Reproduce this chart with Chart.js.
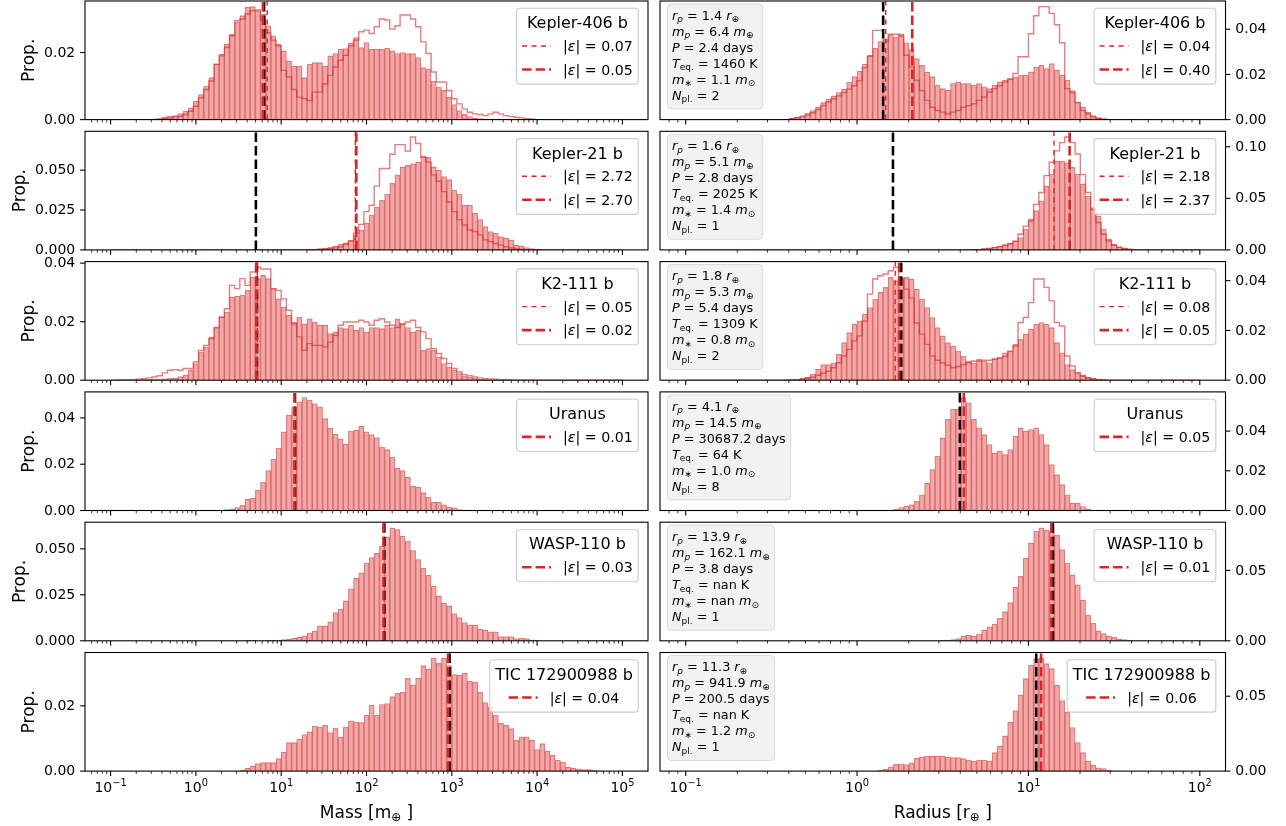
<!DOCTYPE html>
<html>
<head>
<meta charset="utf-8">
<script src="https://cdn.jsdelivr.net/npm/chart.js@4.4.1/dist/chart.umd.min.js"></script>
<style>
html, body { margin: 0; padding: 0; background: #fff; }
#fig { position: relative; width: 1286px; height: 826px; overflow: hidden; background: #fff; }
#fig canvas { position: absolute; }
</style>
</head>
<body>
<div id="fig"></div>
<script>
// log-spaced histogram bins (exponents of first and last edge), 99 bins each
const massBins = [-1, 5];
const radiusBins = [-1, 2];
const binCount = 99;

const planetNames = ['Kepler-406 b', 'Kepler-21 b', 'K2-111 b', 'Uranus', 'WASP-110 b', 'TIC 172900988 b'];

// text box of the radius panels
const infoRp = ['1.4', '1.6', '1.8', '4.1', '13.9', '11.3'];
const infoMp = ['6.4', '5.1', '5.3', '14.5', '162.1', '941.9'];
const infoPeriod = ['2.4', '2.8', '5.4', '30687.2', '3.8', '200.5'];
const infoTeq = ['1460', '2025', '1309', '64', 'nan', 'nan'];
const infoMstar = ['1.1', '1.4', '0.8', '1.0', 'nan', '1.2'];
const infoNpl = ['2', '1', '2', '8', '1', '1'];

// mass histograms (filled), index of first listed bin
const massHistFirstBin = [8, 38, 5, 22, 26, 25];
const massHistKepler406 = [0.0002,0.0004,0.0008,0.001,0.0012,0.0018,0.0025,0.0035,0.0055,0.0075,0.01,0.0125,0.0165,0.0195,0.0225,0.0255,0.029,0.031,0.0335,0.0337,0.0325,0.0315,0.028,0.025,0.0225,0.0205,0.0175,0.016,0.016,0.0125,0.0165,0.017,0.017,0.016,0.019,0.0197,0.021,0.0212,0.0228,0.0245,0.0215,0.023,0.021,0.021,0.021,0.0213,0.0205,0.0197,0.02,0.0197,0.0197,0.0185,0.0155,0.015,0.0115,0.0097,0.0087,0.0067,0.0045,0.0027,0.0016,0.0009,0.0005,0.0003,0.0002,0.0001,0.0001,0.0001];
const massHistKepler21 = [0.0003,0.0005,0.0008,0.0012,0.0018,0.0025,0.0035,0.0045,0.006,0.009,0.0125,0.0167,0.022,0.027,0.031,0.035,0.0417,0.047,0.052,0.053,0.054,0.055,0.059,0.058,0.052,0.05,0.046,0.044,0.0375,0.035,0.028,0.028,0.023,0.019,0.0146,0.0115,0.0104,0.0083,0.0073,0.0063,0.003,0.0025,0.0015,0.0008,0.0004];
const massHistK2111 = [0.0001,0.0002,0.0003,0.0004,0.0004,0.0005,0.0006,0.0008,0.0012,0.0018,0.0034,0.0057,0.0097,0.0114,0.0148,0.018,0.0216,0.0233,0.0284,0.0287,0.029,0.0307,0.0352,0.0347,0.0358,0.0347,0.0313,0.0278,0.025,0.0222,0.0199,0.0216,0.0193,0.021,0.0199,0.0188,0.0188,0.0159,0.0165,0.018,0.0176,0.0188,0.017,0.018,0.0165,0.018,0.018,0.0176,0.0188,0.018,0.021,0.0193,0.018,0.0165,0.017,0.0102,0.0108,0.0102,0.008,0.0057,0.0045,0.0034,0.0023,0.0015,0.001,0.0006,0.0004,0.0002];
const massHistUranus = [0.0004,0.0007,0.0013,0.0022,0.0048,0.0053,0.0087,0.0123,0.0173,0.0221,0.027,0.034,0.0412,0.0448,0.047,0.0488,0.0477,0.0462,0.0448,0.0397,0.0357,0.033,0.031,0.0286,0.0342,0.0347,0.0364,0.034,0.0328,0.0315,0.0274,0.0263,0.0231,0.0183,0.0173,0.0144,0.0104,0.0101,0.0077,0.0058,0.0036,0.0036,0.0025,0.0014,0.0012,0.0004,0.0002];
const massHistWasp110 = [0.0002,0.0002,0,0,0.0001,0.0003,0.0002,0.0006,0.0009,0.0014,0.002,0.0027,0.0042,0.0054,0.0081,0.0081,0.0103,0.0153,0.0171,0.0217,0.0283,0.0339,0.037,0.0424,0.0453,0.0475,0.0514,0.0565,0.0614,0.0605,0.0569,0.0542,0.0491,0.0442,0.0394,0.0356,0.0298,0.0244,0.0204,0.019,0.0148,0.0126,0.0099,0.0087,0.0087,0.0063,0.0058,0.0049,0.0049,0.0023,0.0023,0.0023,0.0012,0.0014,0.0012,0.0005,0.0003];
const massHistTic = [0.0003,0.0009,0.0015,0.0023,0.0026,0.0026,0.0026,0.0038,0.0058,0.0087,0.0087,0.0099,0.0112,0.012,0.0138,0.0135,0.014,0.0118,0.0132,0.0105,0.0135,0.0153,0.0151,0.0149,0.0171,0.0202,0.0171,0.0204,0.0207,0.0228,0.0238,0.0241,0.0284,0.0264,0.0284,0.0323,0.0313,0.0346,0.033,0.0346,0.0323,0.0296,0.0294,0.03,0.0276,0.0272,0.0241,0.021,0.0197,0.0171,0.0146,0.014,0.013,0.0094,0.0105,0.0105,0.0094,0.0066,0.0084,0.0061,0.0048,0.0033,0.0028,0.0012,0.0009,0.0007,0.0005,0.0005,0.0003,0.0001];

// mass histograms (step outline)
const massStepFirstBin = [10, 40, 1];
const massStepKepler406 = [0.0003,0.0005,0.0008,0.001,0.0015,0.0025,0.004,0.0065,0.009,0.0115,0.0165,0.019,0.0215,0.025,0.0295,0.03,0.0315,0.0325,0.0327,0.0297,0.026,0.0237,0.022,0.0147,0.0127,0.009,0.0067,0.0062,0.0057,0.0082,0.0082,0.0107,0.0132,0.0157,0.0177,0.0192,0.022,0.0237,0.0262,0.0267,0.0257,0.0277,0.03,0.0297,0.027,0.028,0.0312,0.0312,0.03,0.0277,0.0232,0.0197,0.0142,0.0112,0.0112,0.0087,0.0062,0.0047,0.0032,0.0022,0.0017,0.0015,0.0012,0.0017,0.0022,0.0017,0.0012,0.0009,0.0007,0.0005,0.0003,0.0002];
const massStepKepler21 = [0.0003,0.0005,0.0008,0.0013,0.002,0.0035,0.0055,0.0105,0.016,0.024,0.028,0.04,0.051,0.051,0.06,0.066,0.066,0.062,0.0708,0.0667,0.058,0.055,0.047,0.043,0.0365,0.03,0.024,0.019,0.0156,0.0125,0.0115,0.0094,0.0063,0.0052,0.004,0.003,0.002,0.0012,0.0006,0.0003];
const massStepK2111 = [0.0001,0.0001,0.0002,0.0002,0.0003,0.0005,0.0008,0.0011,0.0015,0.0025,0.0034,0.0036,0.0034,0.004,0.004,0.0062,0.0102,0.0119,0.0142,0.018,0.0216,0.0244,0.0324,0.0313,0.0347,0.0324,0.037,0.0386,0.038,0.038,0.0313,0.0307,0.0278,0.0239,0.0193,0.0148,0.0102,0.0125,0.0119,0.0119,0.0114,0.013,0.0153,0.0188,0.0199,0.0199,0.0199,0.0205,0.0199,0.0188,0.0205,0.021,0.0199,0.0188,0.018,0.0193,0.0199,0.0205,0.018,0.0165,0.0142,0.0108,0.0091,0.0074,0.0057,0.004,0.0028,0.0019,0.0015,0.0011,0.0008,0.0005,0.0004,0.0003,0.0002,0.0002,0.0001];

// radius histograms (filled)
const radiusHistFirstBin = [20, 55, 19, 40, 49, 37];
const radiusHistKepler406 = [0.0008,0.0012,0.0018,0.0028,0.004,0.0055,0.0075,0.009,0.0105,0.012,0.0135,0.0165,0.019,0.0215,0.0245,0.0285,0.0315,0.0345,0.0355,0.0375,0.0365,0.038,0.034,0.031,0.027,0.024,0.021,0.019,0.0152,0.0137,0.013,0.016,0.0167,0.016,0.016,0.0152,0.016,0.0145,0.0137,0.0152,0.0167,0.0174,0.0181,0.0189,0.0196,0.0196,0.0211,0.0233,0.024,0.0226,0.0248,0.0219,0.0196,0.0174,0.0129,0.0077,0.0055,0.0033,0.0018,0.0009,0.0004,0.0002];
const radiusHistKepler21 = [0.0005,0.0008,0.0012,0.0018,0.0025,0.0035,0.005,0.0065,0.0087,0.012,0.02,0.03,0.038,0.0476,0.062,0.0735,0.086,0.086,0.0845,0.08,0.0735,0.064,0.052,0.041,0.033,0.02,0.0104,0.0055,0.003,0.0015,0.0007,0.0003];
const radiusHistK2111 = [0.0002,0.0003,0.0005,0.0008,0.0012,0.0025,0.0045,0.0063,0.0063,0.007,0.0104,0.0151,0.0191,0.0225,0.0238,0.0265,0.0292,0.0326,0.0353,0.0373,0.0413,0.04,0.0407,0.0413,0.0407,0.0366,0.0326,0.0292,0.0252,0.0211,0.0178,0.0151,0.0137,0.0117,0.0097,0.0077,0.007,0.0084,0.0077,0.007,0.0084,0.009,0.011,0.0117,0.0144,0.0164,0.0185,0.0205,0.0225,0.0232,0.0225,0.0211,0.0151,0.011,0.0063,0.0043,0.003,0.0022,0.0013,0.0009,0.0005,0.0003];
const radiusHistUranus = [0.0006,0.0015,0.0022,0.0029,0.0046,0.0079,0.0138,0.0206,0.0273,0.0366,0.0459,0.051,0.051,0.0569,0.0543,0.0459,0.0417,0.0383,0.0332,0.029,0.0299,0.0282,0.0307,0.0375,0.0417,0.04,0.0408,0.0417,0.0383,0.0332,0.0231,0.0181,0.013,0.0079,0.0037,0.0037,0.002,0.0008];
const radiusHistWasp110 = [0.0003,0.0005,0.0008,0.0015,0.0036,0.004,0.0033,0.0048,0.0076,0.01,0.0119,0.016,0.0207,0.0271,0.0381,0.0457,0.0588,0.0695,0.0779,0.0802,0.0786,0.0775,0.0748,0.0648,0.0552,0.0469,0.0398,0.029,0.0183,0.0124,0.0071,0.0052,0.0033,0.0024,0.0014,0.0008,0.0004];
const radiusHistTic = [0.0005,0.0014,0.0029,0.0045,0.0049,0.0043,0.0056,0.0085,0.0096,0.0101,0.0101,0.0101,0.0101,0.0094,0.009,0.009,0.0083,0.0074,0.0067,0.0074,0.0074,0.0067,0.0123,0.0168,0.0235,0.0325,0.0404,0.0509,0.0617,0.0706,0.0751,0.0754,0.0717,0.0684,0.0572,0.0471,0.0392,0.0291,0.0191,0.0123,0.0067,0.004,0.0022,0.0016,0.0005];

// radius histograms (step outline)
const radiusStepFirstBin = [20, 57, 22];
const radiusStepKepler406 = [0.0004,0.0007,0.0012,0.002,0.003,0.0045,0.0062,0.0078,0.0092,0.0105,0.012,0.0135,0.015,0.0172,0.023,0.028,0.0395,0.0395,0.0345,0.0378,0.0378,0.037,0.0285,0.0233,0.0174,0.0129,0.0085,0.0055,0.004,0.0033,0.0025,0.0033,0.004,0.0055,0.0062,0.007,0.0085,0.01,0.0122,0.0137,0.015,0.0167,0.018,0.0204,0.0278,0.0278,0.038,0.046,0.05,0.05,0.047,0.042,0.034,0.0137,0.012,0.0075,0.004,0.0025,0.0012,0.0005,0.0002];
const radiusStepKepler21 = [0.001,0.0015,0.0022,0.003,0.0045,0.006,0.0085,0.0152,0.023,0.028,0.044,0.0557,0.072,0.085,0.096,0.104,0.1095,0.104,0.093,0.073,0.0557,0.039,0.0265,0.0152,0.0087,0.0045,0.0026,0.0013,0.0006];
const radiusStepK2111 = [0.0004,0.0008,0.0012,0.002,0.0028,0.0036,0.005,0.007,0.0097,0.0124,0.0158,0.0178,0.0238,0.0346,0.0407,0.042,0.0427,0.044,0.0454,0.041,0.0366,0.033,0.023,0.0185,0.0144,0.0097,0.008,0.007,0.006,0.005,0.0055,0.0063,0.007,0.0077,0.0077,0.008,0.008,0.0085,0.009,0.0095,0.0117,0.0137,0.0232,0.0252,0.0312,0.0407,0.0407,0.0373,0.0319,0.0232,0.0218,0.0097,0.0057,0.003,0.0016,0.0009,0.0005,0.0002];

// vertical markers: true value (black) and the two predictions (red, thin / thick)
const massTrue = [6.3, 5.05, 5.2, 14.5, 162, 942];
const massPredStep = [6.85, 74, 5.25];
const massPredHist = [6.1, 76, 5.1, 14.3, 158, 904];
const massEpsStep = ['0.07', '2.72', '0.05'];
const massEpsHist = ['0.05', '2.70', '0.02', '0.01', '0.03', '0.04'];
const radiusTrue = [1.42, 1.62, 1.81, 3.98, 13.9, 11.1];
const radiusPredStep = [1.47, 14.1, 1.67];
const radiusPredHist = [2.1, 17.4, 1.76, 4.2, 13.6, 11.85];
const radiusEpsStep = ['0.04', '2.18', '0.08'];
const radiusEpsHist = ['0.40', '2.37', '0.05', '0.05', '0.01', '0.06'];

// tick labels
const massYTicks = [['0.00','0.02'], ['0.000','0.025','0.050'], ['0.00','0.02','0.04'], ['0.00','0.02','0.04'], ['0.000','0.025','0.050'], ['0.00','0.02']];
const radiusYTicks = [['0.00','0.02','0.04'], ['0.00','0.05','0.10'], ['0.00','0.02','0.04'], ['0.00','0.02','0.04'], ['0.00','0.05'], ['0.00','0.05']];
const massXTickExps = ['\u22121', '0', '1', '2', '3', '4', '5'];
const radiusXTickExps = ['\u22121', '0', '1', '2'];

const massHist = [massHistKepler406, massHistKepler21, massHistK2111, massHistUranus, massHistWasp110, massHistTic];
const massStep = [massStepKepler406, massStepKepler21, massStepK2111];
const radiusHist = [radiusHistKepler406, radiusHistKepler21, radiusHistK2111, radiusHistUranus, radiusHistWasp110, radiusHistTic];
const radiusStep = [radiusStepKepler406, radiusStepKepler21, radiusStepK2111];

// ---- layout ----
const FONT = '"DejaVu Sans"';
const COLS = [
  { x0: 0, w: 652, axL: 85, axR: 648, side: 'left' },
  { x0: 652, w: 634, axL: 660, axR: 1225.5, side: 'right' }
];
const ROW_TOP = 1, ROW_PITCH = 130.3, AX_H = 118.6;
const RED = '#d62728';

function fullBins(first, vals) {
  const out = new Array(binCount).fill(0);
  vals.forEach((v, i) => { out[first + i] = v; });
  return out;
}

function drawRich(ctx, segs, x, y, size, measureOnly) {
  let cx = x;
  segs.forEach(s => {
    const fs = (s.sub || s.sup) ? size * 0.7 : size;
    ctx.font = (s.it ? 'italic ' : '') + fs.toFixed(2) + 'px ' + FONT;
    const dy = s.sub ? size * 0.2 : (s.sup ? -size * 0.43 : 0);
    if (!measureOnly) ctx.fillText(s.t, cx, y + dy);
    cx += ctx.measureText(s.t).width;
  });
  return cx - x;
}

function epsSegs(e) {
  return [{ t: '|' }, { t: '\u03b5', it: 1 }, { t: '| = ' + e }];
}

function infoLines(i) {
  return [
    [{t:'r',it:1},{t:'p',it:1,sub:1},{t:' = ' + infoRp[i] + ' '},{t:'r',it:1},{t:'\u2295',sub:1}],
    [{t:'m',it:1},{t:'p',it:1,sub:1},{t:' = ' + infoMp[i] + ' '},{t:'m',it:1},{t:'\u2295',sub:1}],
    [{t:'P',it:1},{t:' = ' + infoPeriod[i] + ' days'}],
    [{t:'T',it:1},{t:'eq.',sub:1},{t:' = ' + infoTeq[i] + ' K'}],
    [{t:'m',it:1},{t:'\u2217',sub:1},{t:' = ' + infoMstar[i] + ' '},{t:'m',it:1},{t:'\u2299',sub:1}],
    [{t:'N',it:1},{t:'pl.',sub:1},{t:' = ' + infoNpl[i]}]
  ];
}

function roundRect(ctx, x, y, w, h, r) {
  ctx.beginPath();
  ctx.moveTo(x + r, y);
  ctx.arcTo(x + w, y, x + w, y + h, r);
  ctx.arcTo(x + w, y + h, x, y + h, r);
  ctx.arcTo(x, y + h, x, y, r);
  ctx.arcTo(x, y, x + w, y, r);
  ctx.closePath();
}

function mplPlugin(p) {
  return {
    id: 'mpl',
    afterDraw(chart) {
      const ctx = chart.ctx, a = chart.chartArea;
      const xs = chart.scales.x, ys = chart.scales.y;
      const left = p.side === 'left';
      ctx.save();
      ctx.strokeStyle = '#000';
      ctx.fillStyle = '#000';

      // log x ticks, major and minor
      const e0 = Math.floor(Math.log10(xs.min)), e1 = Math.ceil(Math.log10(xs.max));
      for (let e = e0; e <= e1; e++) {
        for (let d = 1; d < 10; d++) {
          const v = d * Math.pow(10, e);
          if (v < xs.min || v > xs.max) continue;
          const x = xs.getPixelForValue(v);
          ctx.lineWidth = d === 1 ? 1.1 : 0.8;
          ctx.beginPath();
          ctx.moveTo(x, a.bottom);
          ctx.lineTo(x, a.bottom + (d === 1 ? 4.9 : 2.8));
          ctx.stroke();
        }
      }

      // y ticks
      ctx.font = '14px ' + FONT;
      ctx.textBaseline = 'middle';
      ctx.textAlign = left ? 'right' : 'left';
      const x0 = left ? a.left : a.right, dir = left ? -1 : 1;
      let labelEdge = a.left;
      p.yTicks.forEach(t => {
        const y = ys.getPixelForValue(parseFloat(t));
        ctx.lineWidth = 1.1;
        ctx.beginPath();
        ctx.moveTo(x0, y);
        ctx.lineTo(x0 + dir * 4.9, y);
        ctx.stroke();
        ctx.fillText(t, x0 + dir * 9.8, y + 0.5);
        labelEdge = Math.min(labelEdge, x0 - 9.8 - ctx.measureText(t).width);
      });

      // spines
      ctx.lineWidth = 1.1;
      ctx.strokeRect(a.left, a.top, a.right - a.left, a.bottom - a.top);

      ctx.textAlign = 'left';
      ctx.textBaseline = 'alphabetic';

      if (left) {
        ctx.save();
        ctx.translate(labelEdge - 5.6, (a.top + a.bottom) / 2);
        ctx.rotate(-Math.PI / 2);
        ctx.font = '17px ' + FONT;
        ctx.textAlign = 'center';
        ctx.textBaseline = 'bottom';
        ctx.fillText('Prop.', 0, 0);
        ctx.restore();
      }

      // x tick labels and axis title on the bottom row
      if (p.xTickExps) {
        p.xTickExps.forEach(ex => {
          const v = Math.pow(10, parseFloat(ex.replace('\u2212', '-')));
          const x = xs.getPixelForValue(v);
          const segs = [{ t: '10' }, { t: ex, sup: 1 }];
          const w = drawRich(ctx, segs, 0, 0, 14, true);
          drawRich(ctx, segs, x - w / 2, a.bottom + 20.5, 14);
        });
        const w = drawRich(ctx, p.xTitle, 0, 0, 17, true);
        drawRich(ctx, p.xTitle, (a.left + a.right) / 2 - w / 2, a.bottom + 46.5, 17);
      }

      // parameter box
      if (p.info) {
        const fs = 12.8;
        let maxW = 0;
        p.info.forEach(l => { maxW = Math.max(maxW, drawRich(ctx, l, 0, 0, fs, true)); });
        const bx = a.left + 7.5, by = a.top + 3;
        roundRect(ctx, bx, by, maxW + 9.5, 105, 4);
        ctx.fillStyle = 'rgba(211,211,211,0.3)';
        ctx.fill();
        ctx.strokeStyle = 'rgba(150,150,150,0.3)';
        ctx.lineWidth = 1;
        ctx.stroke();
        ctx.fillStyle = '#000';
        p.info.forEach((l, i) => drawRich(ctx, l, bx + 4.5, by + 15.8 + 16 * i, fs));
      }

      // legend
      const tf = 16, lf = 14.2;
      ctx.font = tf + 'px ' + FONT;
      const titleW = ctx.measureText(p.legendTitle).width;
      const entryW = p.legend.map(e => 29 + 12 + drawRich(ctx, epsSegs(e.eps), 0, 0, lf, true));
      const blockW = Math.max(...entryW);
      const inner = Math.max(titleW, blockW);
      const pad = 5.5;
      const bw = inner + 2 * pad;
      const bh = 14.5 + p.legend.length * 23.5 + 14.3;
      const bx = a.right - 9.7 - bw, by = a.top + 7.3;
      roundRect(ctx, bx, by, bw, bh, 3);
      ctx.fillStyle = 'rgba(255,255,255,0.8)';
      ctx.fill();
      ctx.strokeStyle = '#cccccc';
      ctx.lineWidth = 1.1;
      ctx.stroke();
      ctx.fillStyle = '#000';
      ctx.font = tf + 'px ' + FONT;
      ctx.textAlign = 'center';
      ctx.fillText(p.legendTitle, bx + bw / 2, by + 14.2 + 0.36 * tf);
      ctx.textAlign = 'left';
      const blockX = bx + pad + (inner - blockW) / 2;
      p.legend.forEach((e, i) => {
        const cy = by + 14.2 + 23.5 * (i + 1);
        ctx.strokeStyle = e.color;
        ctx.lineWidth = e.width;
        ctx.setLineDash(e.dash);
        ctx.beginPath();
        ctx.moveTo(blockX, cy);
        ctx.lineTo(blockX + 29, cy);
        ctx.stroke();
        ctx.setLineDash([]);
        drawRich(ctx, epsSegs(e.eps), blockX + 41, cy + 0.36 * lf, lf);
      });
      ctx.restore();
    }
  };
}

function vline(v, ymax, color, width, dash, order) {
  return {
    type: 'line',
    data: [{ x: v, y: 0 }, { x: v, y: ymax }],
    borderColor: color, borderWidth: width, borderDash: dash,
    pointRadius: 0, fill: false, order: order, tension: 0
  };
}

function buildPanel(colIdx, row, s) {
  const col = COLS[colIdx];
  const axTop = ROW_TOP + ROW_PITCH * row;
  const cTop = Math.floor(axTop) - 10;
  const padTop = axTop - cTop;
  const xAxisH = row === 5 ? 826 - (axTop + AX_H) : 10;
  const cH = Math.ceil(padTop + AX_H + xAxisH);
  const padBottom = cH - (padTop + AX_H + xAxisH);
  const yAxisW = col.side === 'left' ? col.axL - col.x0 : col.x0 + col.w - col.axR;
  const padL = col.side === 'left' ? 0 : col.axL - col.x0;
  const padR = col.side === 'left' ? col.x0 + col.w - col.axR : 0;

  const canvas = document.createElement('canvas');
  canvas.width = col.w;
  canvas.height = cH;
  canvas.style.left = col.x0 + 'px';
  canvas.style.top = cTop + 'px';
  canvas.style.width = col.w + 'px';
  canvas.style.height = cH + 'px';
  document.getElementById('fig').appendChild(canvas);

  const [lo, hi] = s.bins;
  const span = hi - lo;
  const edges = [];
  for (let k = 0; k <= binCount; k++) edges.push(Math.pow(10, lo + span * k / binCount));
  const centers = [];
  for (let k = 0; k < binCount; k++) centers.push(Math.pow(10, lo + span * (k + 0.5) / binCount));

  const hist = fullBins(s.histFirst, s.hist);
  const step = s.step ? fullBins(s.stepFirst, s.step) : null;
  const ymax = 1.05 * Math.max(...hist, ...(step || [0]));

  const datasets = [{
    type: 'bar',
    data: centers.map((c, k) => ({ x: c, y: hist[k] })),
    backgroundColor: 'rgba(214,39,40,0.4)',
    borderColor: 'rgba(214,39,40,0.5)',
    borderWidth: { left: 0.45, right: 0.45, top: 0.45, bottom: 0 },
    borderSkipped: 'start',
    barPercentage: 1, categoryPercentage: 1,
    order: 5
  }];
  const legend = [];
  if (step) {
    const pts = [{ x: edges[0], y: 0 }];
    for (let k = 0; k < binCount; k++) pts.push({ x: edges[k], y: step[k] });
    pts.push({ x: edges[binCount], y: 0 });
    datasets.push({
      type: 'line', data: pts, stepped: 'before',
      borderColor: 'rgba(214,39,40,0.6)', borderWidth: 1.4,
      pointRadius: 0, fill: false, order: 4
    });
  }
  datasets.push(vline(s.trueV, ymax, '#000', 2.6, [9.5, 4], 3));
  if (step) {
    datasets.push(vline(s.predStep, ymax, RED, 1.4, [5, 4.5], 2));
    legend.push({ eps: s.epsStep, color: RED, width: 1.4, dash: [5, 4.5] });
  }
  datasets.push(vline(s.predHist, ymax, RED, 2.6, [9.5, 4], 1));
  legend.push({ eps: s.epsHist, color: RED, width: 2.6, dash: [9.5, 4] });

  const decades = [];
  for (let e = Math.ceil(lo - 0.05 * span); e <= Math.floor(hi + 0.05 * span); e++) decades.push(Math.pow(10, e));

  new Chart(canvas.getContext('2d'), {
    type: 'bar',
    data: { datasets },
    options: {
      responsive: false,
      animation: false,
      devicePixelRatio: 1,
      events: [],
      layout: { padding: { left: padL, right: padR, top: padTop, bottom: padBottom } },
      plugins: { legend: { display: false }, tooltip: { enabled: false } },
      scales: {
        x: {
          type: 'logarithmic',
          min: Math.pow(10, lo - 0.05 * span),
          max: Math.pow(10, hi + 0.05 * span),
          offset: false,
          grid: { display: false },
          border: { display: false },
          ticks: { display: false },
          afterBuildTicks: sc => { sc.ticks = decades.map(v => ({ value: v })); },
          afterFit: sc => { sc.height = xAxisH; }
        },
        y: {
          type: 'linear',
          position: col.side,
          min: 0,
          max: ymax,
          grid: { display: false },
          border: { display: false },
          ticks: { display: false },
          afterFit: sc => { sc.width = yAxisW; }
        }
      }
    },
    plugins: [mplPlugin({
      side: col.side,
      yTicks: s.yTicks,
      xTickExps: row === 5 ? s.xTickExps : null,
      xTitle: s.xTitle,
      info: s.info,
      legendTitle: planetNames[row],
      legend
    })]
  });
}

for (let r = 0; r < 6; r++) {
  buildPanel(0, r, {
    bins: massBins,
    hist: massHist[r], histFirst: massHistFirstBin[r],
    step: massStep[r], stepFirst: massStepFirstBin[r],
    trueV: massTrue[r], predStep: massPredStep[r], predHist: massPredHist[r],
    epsStep: massEpsStep[r], epsHist: massEpsHist[r],
    yTicks: massYTicks[r],
    xTickExps: massXTickExps,
    xTitle: [{ t: 'Mass [m' }, { t: '\u2295', sub: 1 }, { t: ' ]' }],
    info: null
  });
  buildPanel(1, r, {
    bins: radiusBins,
    hist: radiusHist[r], histFirst: radiusHistFirstBin[r],
    step: radiusStep[r], stepFirst: radiusStepFirstBin[r],
    trueV: radiusTrue[r], predStep: radiusPredStep[r], predHist: radiusPredHist[r],
    epsStep: radiusEpsStep[r], epsHist: radiusEpsHist[r],
    yTicks: radiusYTicks[r],
    xTickExps: radiusXTickExps,
    xTitle: [{ t: 'Radius [r' }, { t: '\u2295', sub: 1 }, { t: ' ]' }],
    info: infoLines(r)
  });
}
</script>
</body>
</html>
